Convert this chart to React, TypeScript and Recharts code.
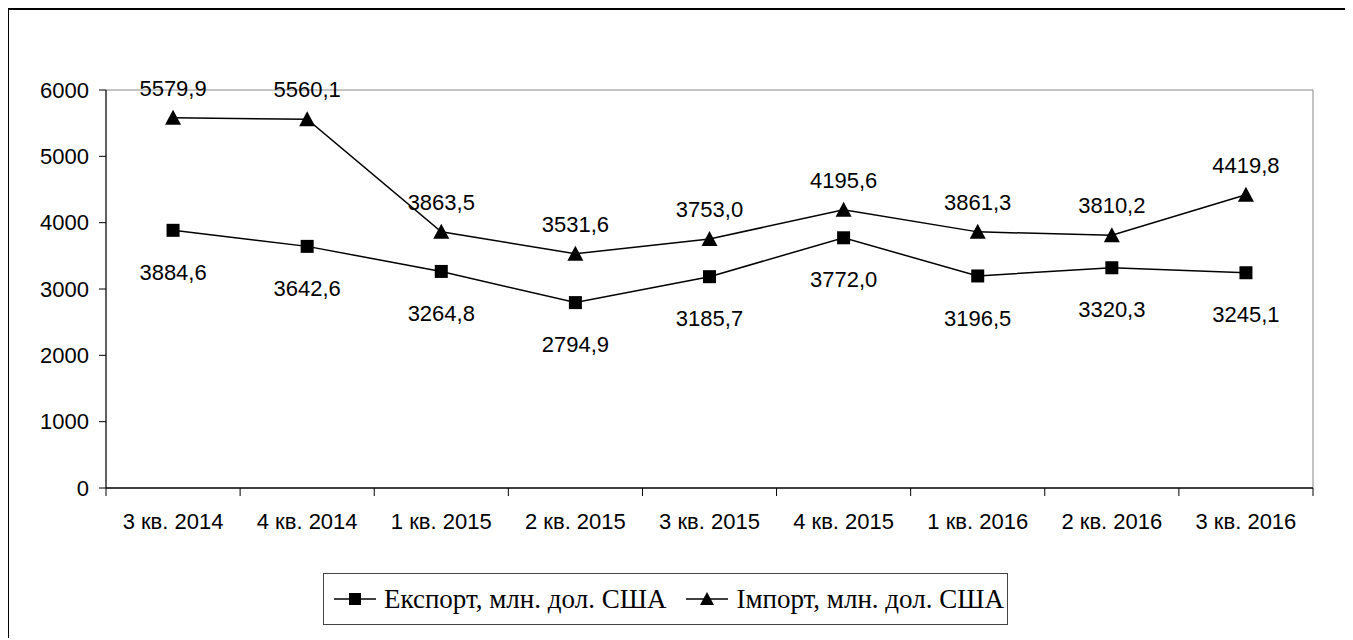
import React from 'react';
import { ComposedChart, Line, XAxis, YAxis, Legend, LabelList, ReferenceArea } from 'recharts';

const quarters = [
  '3 кв. 2014', '4 кв. 2014', '1 кв. 2015', '2 кв. 2015', '3 кв. 2015',
  '4 кв. 2015', '1 кв. 2016', '2 кв. 2016', '3 кв. 2016',
];
const exportValues = [3884.6, 3642.6, 3264.8, 2794.9, 3185.7, 3772.0, 3196.5, 3320.3, 3245.1];
const importValues = [5579.9, 5560.1, 3863.5, 3531.6, 3753.0, 4195.6, 3861.3, 3810.2, 4419.8];
const yTicks = [0, 1000, 2000, 3000, 4000, 5000, 6000];

const EXPORT_NAME = 'Експорт, млн. дол. США';
const IMPORT_NAME = 'Імпорт, млн. дол. США';
const seriesOrder = ['exp', 'imp'];

const data = quarters.map((q, i) => ({
  quarter: q,
  exp: exportValues[i],
  imp: importValues[i],
}));

const SANS = '"Liberation Sans", Arial, sans-serif';
const SERIF = '"Liberation Serif", "Times New Roman", serif';

const CHART_W = 1342;
const CHART_H = 628;
const TICK_SIZE = 8;
const TICK_MARGIN = 13;

const fmt = (v: any) => Number(v).toFixed(1).replace('.', ',');

// category ticks sit between the quarters, labels in the middle
function QuarterTick(props: any) {
  const { x, y, payload, index, visibleTicksCount } = props;
  const half = payload && payload.offset ? payload.offset : 1207 / 9 / 2;
  const axisY = y - TICK_SIZE - TICK_MARGIN;
  return (
    <g>
      <line x1={x - half} x2={x - half} y1={axisY} y2={axisY + TICK_SIZE} stroke="#000" />
      {index === visibleTicksCount - 1 && (
        <line x1={x + half} x2={x + half} y1={axisY} y2={axisY + TICK_SIZE} stroke="#000" />
      )}
      <text x={x} y={y} dy={20} textAnchor="middle" fill="#000" fontSize={22} fontFamily={SANS}>
        {payload.value}
      </text>
    </g>
  );
}

function SquareDot(props: any) {
  const { cx, cy } = props;
  if (cx == null || cy == null) return null;
  return <rect x={cx - 6.5} y={cy - 6.5} width={13} height={13} fill="#000" />;
}

function TriangleDot(props: any) {
  const { cx, cy } = props;
  if (cx == null || cy == null) return null;
  return <polygon points={`${cx},${cy - 8} ${cx - 8},${cy + 7} ${cx + 8},${cy + 7}`} fill="#000" />;
}

function LegendBox(props: any) {
  const items = [...(props.payload || [])].sort(
    (a: any, b: any) => seriesOrder.indexOf(a.dataKey) - seriesOrder.indexOf(b.dataKey)
  );
  return (
    <div
      style={{
        display: 'flex',
        alignItems: 'center',
        height: 52,
        boxSizing: 'border-box',
        border: '1px solid #444',
        paddingLeft: 10,
        background: '#fff',
        fontFamily: SERIF,
        fontSize: 27,
        color: '#000',
        whiteSpace: 'nowrap',
      }}
    >
      {items.map((entry: any) => (
        <span key={entry.value} style={{ display: 'inline-flex', alignItems: 'center', marginRight: 20 }}>
          <svg width={42} height={20}>
            <line x1={0} x2={42} y1={10} y2={10} stroke="#000" strokeWidth={1.5} />
            {entry.dataKey === 'exp' ? (
              <rect x={15} y={4} width={12} height={12} fill="#000" />
            ) : (
              <polygon points="21,3 14,16 28,16" fill="#000" />
            )}
          </svg>
          <span style={{ marginLeft: 8 }}>{entry.value}</span>
        </span>
      ))}
    </div>
  );
}

export default function App() {
  return (
    <div
      style={{
        width: CHART_W + 4,
        height: CHART_H + 2,
        marginLeft: -1,
        border: '2px solid #000',
        borderBottom: 'none',
        boxSizing: 'border-box',
        background: '#fff',
      }}
    >
      <ComposedChart
        width={CHART_W}
        height={CHART_H}
        data={data}
        margin={{ top: 80, right: 38, left: 37, bottom: 68 }}
      >
        <ReferenceArea y1={0} y2={6000} stroke="#888" strokeWidth={1} fill="none" ifOverflow="visible" />
        <XAxis
          dataKey="quarter"
          scale="band"
          height={30}
          tickLine={false}
          tickSize={TICK_SIZE}
          tickMargin={TICK_MARGIN}
          interval={0}
          tick={<QuarterTick />}
          axisLine={{ stroke: '#404040', strokeWidth: 2 }}
        />
        <YAxis
          width={60}
          domain={[0, 6000]}
          ticks={yTicks}
          tickSize={7}
          tickMargin={10}
          axisLine={{ stroke: '#000' }}
          tickLine={{ stroke: '#000' }}
          tick={{ fill: '#000', fontSize: 22, fontFamily: SANS }}
        />
        <Line
          name={EXPORT_NAME}
          dataKey="exp"
          stroke="#000"
          strokeWidth={1.5}
          dot={<SquareDot />}
          activeDot={false}
          isAnimationActive={false}
        >
          <LabelList
            dataKey="exp"
            position="bottom"
            offset={34}
            formatter={fmt}
            fill="#000"
            fontSize={22}
            fontFamily={SANS}
          />
        </Line>
        <Line
          name={IMPORT_NAME}
          dataKey="imp"
          stroke="#000"
          strokeWidth={1.5}
          dot={<TriangleDot />}
          activeDot={false}
          isAnimationActive={false}
        >
          <LabelList
            dataKey="imp"
            position="top"
            offset={22}
            formatter={fmt}
            fill="#000"
            fontSize={22}
            fontFamily={SANS}
          />
        </Line>
        <Legend
          content={<LegendBox />}
          verticalAlign="bottom"
          wrapperStyle={{ top: 563, left: 314, bottom: 'auto', width: 685 }}
        />
      </ComposedChart>
    </div>
  );
}
